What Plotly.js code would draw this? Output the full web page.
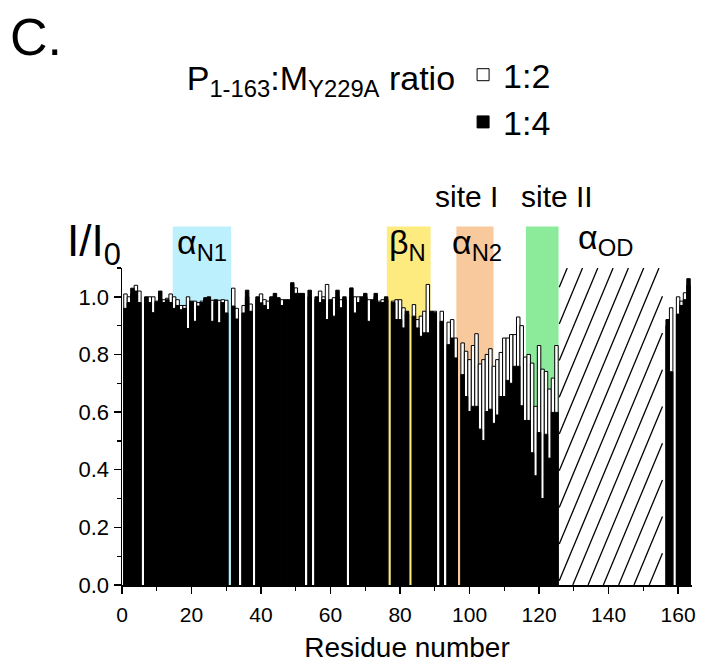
<!DOCTYPE html>
<html>
<head>
<meta charset="utf-8">
<script src="https://cdn.plot.ly/plotly-3.0.1.min.js"></script>
<style>html,body{margin:0;padding:0;background:#fff;}#chart{width:706px;height:666px;}</style>
</head>
<body>
<div id="chart"></div>
<script>
// I/I0 at P(1-163):M(Y229A) ratio 1:2 (open bars) ; null = residue not observed
const ratio12 = [
  1.01, 1.00, 1.01, 1.04, 1.02, null, 0.99, 1.00, 1.00, 0.98,
  0.99, 0.99, 0.995, 1.01, 1.00, 0.99, 0.97, 0.97, 1.00, 0.975,
  0.985, 0.98, 0.985, 0.99, 0.99, 0.988, 0.98, 0.988, 0.99, 0.988,
  null, 1.03, 0.96, null, 0.97, 1.00, 0.975, null, 0.99, 1.01,
  0.99, 0.985, 0.99, 1.00, 0.99, 0.99, 0.98, 0.98, 1.02, 1.031,
  1.00, 1.00, null, 1.00, null, 0.99, 1.02, 1.00, 1.043, 0.98,
  0.997, 1.00, 0.99, 0.99, null, 1.00, 1.00, 1.00, 0.99, 1.00,
  0.99, 0.98, 1.00, 0.985, 0.99, 0.99, null, 0.985, 0.99, 0.99,
  0.962, 0.94, null, 0.973, 0.921, 0.933, 0.95, 1.043, 0.94, 0.95,
  null, 0.95, null, 0.912, 0.921, 0.857, null, 0.84, 0.811, 0.782,
  0.831, 0.872, 0.767, 0.782, 0.80, 0.82, 0.759, 0.782, 0.807, 0.857,
  0.857, 0.869, 0.869, 0.93, 0.90, 0.791, 0.80, 0.77, 0.62, 0.831,
  0.749, 0.741, 0.68, 0.718, 0.831, null, null, null, null, null,
  null, null, null, null, null, null, null, null, null, null,
  null, null, null, null, null, null, null, null, null, null,
  null, null, null, null, null, null, 0.90, 0.962, null, 1.00,
  0.985, 1.014, 1.04
];
// I/I0 at ratio 1:4 (filled bars)
const ratio14 = [
  0.96, 0.98, 1.03, 1.02, 0.98, null, 1.00, 0.98, 0.945, 0.985,
  1.02, 0.98, 0.99, 0.98, 0.96, 0.97, 0.955, 0.96, 0.89, 0.985,
  0.915, 0.968, 0.98, 0.997, 1.00, 0.915, 0.99, 0.91, 0.98, 0.944,
  null, 0.968, 0.923, null, 0.944, 1.023, 0.95, null, 1.00, 0.979,
  0.97, 0.956, 1.00, 1.012, 0.997, 0.97, 0.99, 0.99, 1.049, 1.012,
  1.012, 1.012, null, 1.023, null, 1.00, 0.98, 0.99, 0.921, 0.99,
  0.933, 1.023, 0.962, 1.00, null, 1.031, 0.944, 0.98, 1.00, 1.012,
  0.915, 0.99, 1.012, 0.98, 0.98, 1.00, null, 0.98, 0.921, 0.921,
  0.892, 0.95, null, 0.933, 0.892, 0.863, 0.875, 0.875, 0.95, 0.945,
  null, 0.915, null, 0.834, 0.857, 0.788, null, 0.73, 0.654, 0.602,
  0.62, 0.62, 0.541, 0.501, 0.602, 0.61, 0.561, 0.59, 0.654, 0.654,
  0.71, 0.70, 0.759, 0.759, 0.622, 0.571, 0.571, 0.459, 0.379, 0.529,
  0.30, 0.523, 0.44, 0.599, 0.599, null, null, null, null, null,
  null, null, null, null, null, null, null, null, null, null,
  null, null, null, null, null, null, null, null, null, null,
  null, null, null, null, null, null, 0.921, 0.74, null, 0.94,
  0.97, 0.99, 1.063
];
const residues = ratio12.map((_, i) => i + 1);

// secondary-structure / binding-site regions (residue ranges)
const regionLabels = ['α<sub>N1</sub>', 'β<sub>N</sub>', 'α<sub>N2</sub>', '', 'α<sub>OD</sub>'];
const regionStart  = [14.6, 76.2, 96.2, 116.2, 125.8];
const regionEnd    = [31.4, 88.8, 106.9, 125.6, 155.5];
const regionColors = ['#bdf0fd', '#fdeb80', '#f8c99c', '#8beb9b', 'hatch'];
const regionLabelX = [23.0, 82.0, 102.2, 0, 139.2];
const siteLabels   = ['site I', 'site II'];
const siteCenters  = [99.1, 125.3];

const seriesNames = ['1:2', '1:4'];
const legendTitle = 'P<sub>1-163</sub>:M<sub>Y229A</sub> ratio';

const FONT = 'Liberation Sans, Arial, sans-serif';
const yTop = 1.1;
const regionTop = 1.244;

const shapes = [];
const annotations = [];
regionLabels.forEach((lab, i) => {
  if (regionColors[i] !== 'hatch') {
    shapes.push({type: 'rect', layer: 'below', xref: 'x', yref: 'paper',
      x0: regionStart[i], x1: regionEnd[i], y0: 0, y1: regionTop / yTop,
      fillcolor: regionColors[i], line: {width: 0}});
  }
  if (lab) {
    annotations.push({xref: 'x', yref: 'paper', x: regionLabelX[i], y: (i === 4 ? 1.09 : 1.075),
      text: lab, showarrow: false, xanchor: 'center', yanchor: 'middle',
      font: {family: FONT, size: 34, color: '#000'}});
  }
});
siteLabels.forEach((lab, i) => {
  annotations.push({xref: 'x', yref: 'paper', x: siteCenters[i], y: 1.225,
    text: lab, showarrow: false, xanchor: 'center', yanchor: 'middle',
    font: {family: FONT, size: 30, color: '#000'}});
});
annotations.push({xref: 'paper', yref: 'paper', x: -0.2, y: 1.73, xanchor: 'left', yanchor: 'middle',
  text: 'C.', showarrow: false, font: {family: FONT, size: 52, color: '#000'}});
annotations.push({xref: 'paper', yref: 'paper', x: -0.05, y: 1.075, xanchor: 'center', yanchor: 'middle',
  text: 'I/I<sub>0</sub>', showarrow: false, font: {family: FONT, size: 44, color: '#000'}});

// hatch lines for the αOD region (computed from region bounds)
const hi = 4;
const hxL = regionStart[hi], hxR = regionEnd[hi];
const hatchSpacing = 4.4, hatchRun = 38.0, hatchPhase = 128.1;
const hx = [], hy = [];
for (let k = -14; k <= 14; k++) {
  const xt = hatchPhase + hatchSpacing * k;
  const xb = xt - hatchRun;
  if (xt <= hxL || xb >= hxR) continue;
  const xs = Math.max(xb, hxL), xe = Math.min(xt, hxR);
  hx.push(xs, xe, null);
  hy.push((xs - xb) / hatchRun * yTop, (xe - xb) / hatchRun * yTop, null);
}

const traces = [
  {type: 'bar', name: seriesNames[0], x: residues, y: ratio12, width: 1,
   marker: {color: '#ffffff', line: {color: '#000000', width: 1}}},
  {type: 'bar', name: seriesNames[1], x: residues, y: ratio14, width: 1,
   marker: {color: '#000000', line: {color: '#000000', width: 1}}},
  {type: 'scatter', mode: 'lines', x: hx, y: hy, showlegend: false, hoverinfo: 'skip',
   line: {color: '#000', width: 1.3}}
];

const layout = {
  width: 706, height: 666,
  margin: {l: 122, r: 14, t: 268, b: 81},
  paper_bgcolor: '#fff', plot_bgcolor: 'rgba(0,0,0,0)',
  barmode: 'overlay', bargap: 0,
  font: {family: FONT, color: '#000'},
  showlegend: true,
  legend: {
    x: 0.11, y: 1.70, xanchor: 'left', yanchor: 'top',
    orientation: 'v', traceorder: 'normal',
    bgcolor: 'rgba(0,0,0,0)',
    font: {family: FONT, size: 34, color: '#000'},
    title: {text: legendTitle, side: 'left', font: {family: FONT, size: 34, color: '#000'}},
    itemwidth: 30
  },
  xaxis: {
    range: [0, 164], showgrid: false, zeroline: false,
    showline: true, linecolor: '#000', linewidth: 1.5,
    ticks: 'outside', ticklen: 7, tickwidth: 1.5, tickcolor: '#000',
    tick0: 0, dtick: 20, ticklabelstandoff: 3,
    minor: {dtick: 10, ticks: 'outside', ticklen: 4, tickwidth: 1.2, tickcolor: '#000'},
    tickfont: {family: FONT, size: 21, color: '#000'},
    title: {text: 'Residue number', font: {family: FONT, size: 28, color: '#000'}, standoff: 12}
  },
  yaxis: {
    range: [0, yTop], showgrid: false, zeroline: false,
    showline: true, linecolor: '#000', linewidth: 1.5,
    ticks: 'outside', ticklen: 7, tickwidth: 1.5, tickcolor: '#000',
    tick0: 0, dtick: 0.2, tickformat: '.1f',
    minor: {dtick: 0.1, ticks: 'outside', ticklen: 4, tickwidth: 1.2, tickcolor: '#000'},
    tickfont: {family: FONT, size: 22, color: '#000'}
  },
  shapes: shapes,
  annotations: annotations
};

Plotly.newPlot('chart', traces, layout, {staticPlot: true, displayModeBar: false});
</script>
</body>
</html>
